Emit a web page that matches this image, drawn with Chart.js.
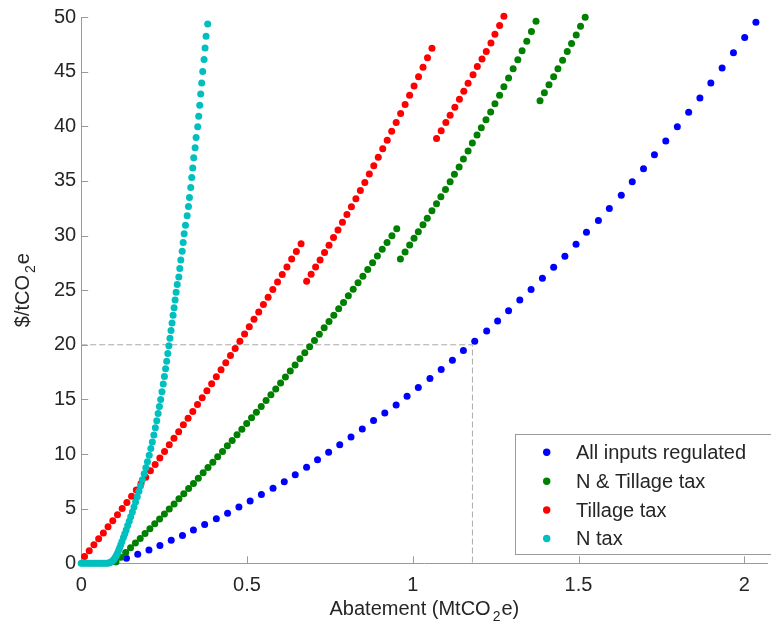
<!DOCTYPE html>
<html><head><meta charset="utf-8">
<script src="https://cdn.jsdelivr.net/npm/chart.js@4.4.1/dist/chart.umd.min.js"></script>
<style>html,body{margin:0;padding:0;background:#fff;}#wrap{width:771px;height:631px;position:relative;}</style>
</head><body><div id="wrap"><canvas id="c" width="771" height="631"></canvas></div>
<script>
// ---------- data ----------
const seriesNames = ['All inputs regulated', 'N & Tillage tax', 'Tillage tax', 'N tax'];
const xTicks = [0, 0.5, 1, 1.5, 2];
const yTicks = [0, 5, 10, 15, 20, 25, 30, 35, 40, 45, 50];
const refX = 1.18, refY = 20;

const blueX = [0.1035,0.1366,0.1705,0.2044,0.2374,0.2716,0.3055,0.3385,0.3724,0.4076,0.4415,0.4757,0.5096,0.5435,0.5786,0.6125,0.6456,0.6798,0.7128,0.7463,0.7798,0.8138,0.8478,0.8818,0.9157,0.9499,0.9829,1.0168,1.0519,1.0858,1.1197,1.1528,1.1870,1.2230,1.2560,1.2890,1.3229,1.3569,1.3911,1.4250,1.4589,1.4925,1.5240,1.5600,1.5930,1.6290,1.6621,1.6960,1.7290,1.7632,1.7980,1.8322,1.8661,1.8991,1.9331,1.9673,2.0012,2.0351];
const blueY = [0.15,0.46,0.82,1.21,1.64,2.10,2.55,3.04,3.55,4.07,4.58,5.16,5.71,6.29,6.86,7.47,8.11,8.80,9.48,10.17,10.86,11.57,12.30,13.06,13.76,14.49,15.28,16.10,16.92,17.74,18.59,19.47,20.32,21.26,22.17,23.11,24.09,25.06,26.09,27.10,28.10,29.19,30.30,31.38,32.47,33.69,34.91,36.12,37.40,38.64,39.95,41.29,42.59,43.96,45.33,46.72,48.12,49.52];

const greenSeg1X = [0.1050,0.1196,0.1342,0.1488,0.1634,0.1780,0.1926,0.2072,0.2218,0.2364,0.2510,0.2656,0.2802,0.2948,0.3094,0.3240,0.3386,0.3532,0.3678,0.3824,0.3970,0.4116,0.4262,0.4408,0.4554,0.4700,0.4846,0.4992,0.5138,0.5284,0.5430,0.5576,0.5722,0.5868,0.6014,0.6160,0.6306,0.6452,0.6598,0.6744,0.6890,0.7036,0.7182,0.7328,0.7474,0.7620,0.7766,0.7912,0.8058,0.8204,0.8350,0.8496,0.8642,0.8788,0.8934,0.9080,0.9226,0.9372,0.9518];
const greenSeg1Y = [0.14,0.56,0.99,1.42,1.85,2.28,2.72,3.16,3.61,4.06,4.51,4.97,5.43,5.90,6.37,6.84,7.31,7.79,8.28,8.76,9.25,9.75,10.24,10.75,11.25,11.76,12.27,12.79,13.31,13.83,14.36,14.89,15.42,15.96,16.51,17.05,17.60,18.15,18.71,19.27,19.83,20.40,20.97,21.55,22.13,22.71,23.30,23.88,24.48,25.08,25.68,26.28,26.89,27.50,28.12,28.74,29.36,29.99,30.62];
const greenSeg2X = [0.9628,0.9769,0.9907,1.0039,1.0168,1.0309,1.0438,1.0579,1.0717,1.0849,1.0987,1.1128,1.1257,1.1399,1.1528,1.1669,1.1798,1.1939,1.2068,1.2209,1.2350,1.2479,1.2620,1.2749,1.2890,1.3028,1.3169,1.3298,1.3439,1.3580,1.3718];
const greenSeg2Y = [27.85,28.49,29.13,29.74,30.35,30.99,31.59,32.26,32.90,33.54,34.21,34.91,35.60,36.27,37.00,37.73,38.46,39.19,39.86,40.59,41.31,42.07,42.84,43.62,44.41,45.26,46.08,46.90,47.79,48.67,49.61];
const greenSeg3X = [1.3839,1.3970,1.4109,1.4250,1.4379,1.4520,1.4661,1.4790,1.4931,1.5060,1.5201];
const greenSeg3Y = [42.34,43.07,43.80,44.53,45.26,46.05,46.85,47.58,48.36,49.15,49.97];

const redSeg1X = [0.0100,0.0242,0.0384,0.0526,0.0668,0.0810,0.0952,0.1094,0.1236,0.1378,0.1520,0.1662,0.1804,0.1946,0.2088,0.2230,0.2372,0.2514,0.2656,0.2798,0.2940,0.3082,0.3224,0.3366,0.3508,0.3650,0.3792,0.3934,0.4076,0.4218,0.4360,0.4502,0.4644,0.4786,0.4928,0.5070,0.5212,0.5354,0.5496,0.5638,0.5780,0.5922,0.6064,0.6206,0.6348,0.6490,0.6632];
const redSeg1Y = [0.62,1.16,1.70,2.24,2.78,3.34,3.89,4.45,5.01,5.57,6.14,6.72,7.30,7.88,8.46,9.05,9.64,10.24,10.84,11.45,12.05,12.67,13.28,13.90,14.53,15.16,15.79,16.43,17.07,17.71,18.36,19.01,19.66,20.32,20.99,21.65,22.33,23.00,23.68,24.36,25.05,25.74,26.44,27.13,27.84,28.54,29.25];
const redSeg2X = [0.6800,0.6935,0.7070,0.7205,0.7340,0.7475,0.7610,0.7745,0.7880,0.8015,0.8150,0.8285,0.8420,0.8555,0.8690,0.8825,0.8960,0.9095,0.9230,0.9365,0.9500,0.9635,0.9770,0.9905,1.0040,1.0175,1.0310,1.0445,1.0580];
const redSeg2Y = [25.82,26.46,27.11,27.77,28.44,29.12,29.81,30.50,31.21,31.92,32.64,33.37,34.11,34.86,35.62,36.38,37.16,37.94,38.73,39.54,40.35,41.17,41.99,42.83,43.68,44.53,45.40,46.27,47.15];
const redSeg3X = [1.0718,1.0858,1.0999,1.1128,1.1270,1.1408,1.1540,1.1669,1.1819,1.1948,1.2089,1.2218,1.2359,1.2479,1.2620,1.2749];
const redSeg3Y = [38.88,39.58,40.34,41.01,41.74,42.47,43.20,43.93,44.71,45.48,46.15,46.85,47.63,48.42,49.22,50.06];

const cyanX = [0.000,0.006,0.012,0.018,0.024,0.030,0.036,0.042,0.048,0.054,0.060,0.066,0.072,0.078,
  0.0830,0.0860,0.0902,0.0943,0.0983,0.1020,0.1056,0.1089,0.1125,0.1157,0.1194,0.1230,0.1273,0.1315,0.1356,0.1402,0.1448,0.1493,0.1543,0.1592,0.1639,0.1691,0.1742,0.1792,0.1845,0.1898,0.1949,0.1999,0.2052,0.2100,0.2145,0.2191,0.2236,0.2279,0.2320,0.2359,0.2397,0.2436,0.2474,0.2510,0.2545,0.2579,0.2612,0.2645,0.2677,0.2709,0.2740,0.2771,0.2802,0.2832,0.2863,
  0.2896,0.2944,0.2974,0.3004,0.3046,0.3076,0.3106,0.3145,0.3196,0.3235,0.3265,0.3304,0.3334,0.3364,0.3394,0.3436,0.3466,0.3514,0.3544,0.3574,0.3604,0.3635,0.3665,0.3706,0.3736,0.3766,0.3815];
const cyanY = [0,0,0,0,0,0,0,0,0,0,0,0,0,0.01,
  0.02,0.05,0.12,0.22,0.35,0.5,0.7,0.9,1.15,1.4,1.7,2.0,2.35,2.7,3.05,3.45,3.85,4.25,4.7,5.15,5.6,6.1,6.6,7.1,7.65,8.2,8.75,9.3,9.9,10.5,11.1,11.75,12.4,13.05,13.7,14.35,15.0,15.7,16.4,17.1,17.8,18.5,19.2,19.9,20.6,21.3,22.0,22.7,23.4,24.1,24.8,
  25.52,26.21,26.98,27.76,28.55,29.37,30.17,30.95,31.81,32.66,33.48,34.39,35.30,36.18,37.12,38.03,38.97,39.95,40.92,41.92,42.95,43.96,45.02,46.12,47.17,48.24,49.36];

// ---------- styles ----------
const FONT = '"Liberation Sans", Arial, Helvetica, sans-serif';
const COLORS = ['#0000ff', '#008000', '#ff0000', '#00bfbf'];
const AXIS_COLOR = '#9a9a9a';
const TEXT_COLOR = '#262626';
const R = 3.5;

function pts(xs, ys) { return xs.map((x, i) => ({x: x, y: ys[i]})); }

const blueData = pts(blueX, blueY);
const greenData = pts(greenSeg1X, greenSeg1Y).concat(pts(greenSeg2X, greenSeg2Y), pts(greenSeg3X, greenSeg3Y));
const redData = pts(redSeg1X, redSeg1Y).concat(pts(redSeg2X, redSeg2Y), pts(redSeg3X, redSeg3Y));
const cyanData = pts(cyanX, cyanY);

function dotSet(label, data, color, order) {
  return {label, data, backgroundColor: color, borderColor: color, borderWidth: 0,
    pointRadius: R, pointHoverRadius: R, showLine: false, order, clip: false};
}

function drawRich(ctx, parts, x, y) {
  let total = 0;
  parts.forEach(p => { ctx.font = p[1] + 'px ' + FONT; total += ctx.measureText(p[0]).width + (p[3] || 0); });
  let cx = x - total / 2;
  parts.forEach(p => {
    ctx.font = p[1] + 'px ' + FONT;
    ctx.fillText(p[0], cx, y + p[2]);
    cx += ctx.measureText(p[0]).width + (p[3] || 0);
  });
}

const overlay = {
  id: 'overlay',
  beforeDatasetsDraw(chart) {
    const ctx = chart.ctx, a = chart.chartArea, xs = chart.scales.x, ys = chart.scales.y;
    ctx.save();
    ctx.strokeStyle = AXIS_COLOR; ctx.lineWidth = 1;
    ctx.beginPath();
    xs.ticks.forEach(t => { const p = Math.round(xs.getPixelForValue(t.value)) + 0.5; ctx.moveTo(p, a.bottom); ctx.lineTo(p, a.bottom - 7); });
    ys.ticks.forEach(t => { const p = Math.round(ys.getPixelForValue(t.value)) + 0.5; ctx.moveTo(a.left, p); ctx.lineTo(a.left + 7, p); });
    ctx.stroke();
    ctx.restore();
  },
  afterDraw(chart) {
    const ctx = chart.ctx, a = chart.chartArea;
    ctx.save();
    ctx.fillStyle = TEXT_COLOR;
    ctx.textBaseline = 'alphabetic';
    ctx.textAlign = 'left';
    drawRich(ctx, [['Abatement (MtCO', 20, 0, 2], ['2', 14, 6, 1], ['e)', 20, 0]], (a.left + a.right) / 2, 615);
    ctx.save();
    ctx.translate(29, (a.top + a.bottom) / 2);
    ctx.rotate(-Math.PI / 2);
    drawRich(ctx, [['$/tCO', 20, 0, 2], ['2', 14, 6, 1], ['e', 20, 0]], 0, 0);
    ctx.restore();
    const bx = 515.5, by = 434.5, bw = 270, bh = 120;
    ctx.fillStyle = '#ffffff';
    ctx.fillRect(bx, by, bw, bh);
    ctx.strokeStyle = AXIS_COLOR; ctx.lineWidth = 1;
    ctx.strokeRect(bx, by, bw, bh);
    const rows = [452.3, 481.3, 510, 538.5];
    ctx.font = '20px ' + FONT;
    ctx.textBaseline = 'middle';
    [0, 1, 2, 3].forEach((di, k) => {
      const ds = chart.data.datasets[di];
      ctx.fillStyle = ds.backgroundColor;
      ctx.beginPath(); ctx.arc(546.7, rows[k], 3.7, 0, Math.PI * 2); ctx.fill();
      ctx.fillStyle = TEXT_COLOR;
      ctx.fillText(ds.label, 576, rows[k] + 1);
    });
    ctx.restore();
  }
};

Chart.defaults.font.family = FONT;
new Chart(document.getElementById('c'), {
  type: 'scatter',
  data: {
    datasets: [
      dotSet(seriesNames[0], blueData, COLORS[0], 3),
      dotSet(seriesNames[1], greenData, COLORS[1], 2),
      dotSet(seriesNames[2], redData, COLORS[2], 1),
      dotSet(seriesNames[3], cyanData, COLORS[3], 0),
      {label: 'ref', data: [{x: 0, y: refY}, {x: refX, y: refY}, {x: refX, y: 0}], showLine: true,
       borderColor: '#aaaaaa', borderWidth: 1, borderDash: [6, 3], pointRadius: 0, fill: false, order: 5}
    ]
  },
  options: {
    responsive: false, animation: false, devicePixelRatio: 1,
    layout: {padding: {top: 14.7, right: 0, left: 0, bottom: 0}},
    plugins: {legend: {display: false}, tooltip: {enabled: false}},
    scales: {
      x: {type: 'linear', min: 0, max: 2.07,
        afterBuildTicks: s => { s.ticks = xTicks.map(v => ({value: v})); },
        afterFit: s => { s.height = 67.7; },
        grid: {display: false, drawTicks: false},
        border: {display: true, color: AXIS_COLOR, width: 1},
        ticks: {font: {size: 20}, color: TEXT_COLOR, padding: 10, maxRotation: 0, autoSkip: false, callback: v => String(v)}},
      y: {type: 'linear', min: 0, max: 50,
        afterBuildTicks: s => { s.ticks = yTicks.map(v => ({value: v})); },
        afterFit: s => { s.width = 81.2; },
        grid: {display: false, drawTicks: false},
        border: {display: true, color: AXIS_COLOR, width: 1},
        ticks: {font: {size: 20}, color: TEXT_COLOR, padding: 5, autoSkip: false, callback: v => String(v)}}
    }
  },
  plugins: [overlay]
});
</script></body></html>
